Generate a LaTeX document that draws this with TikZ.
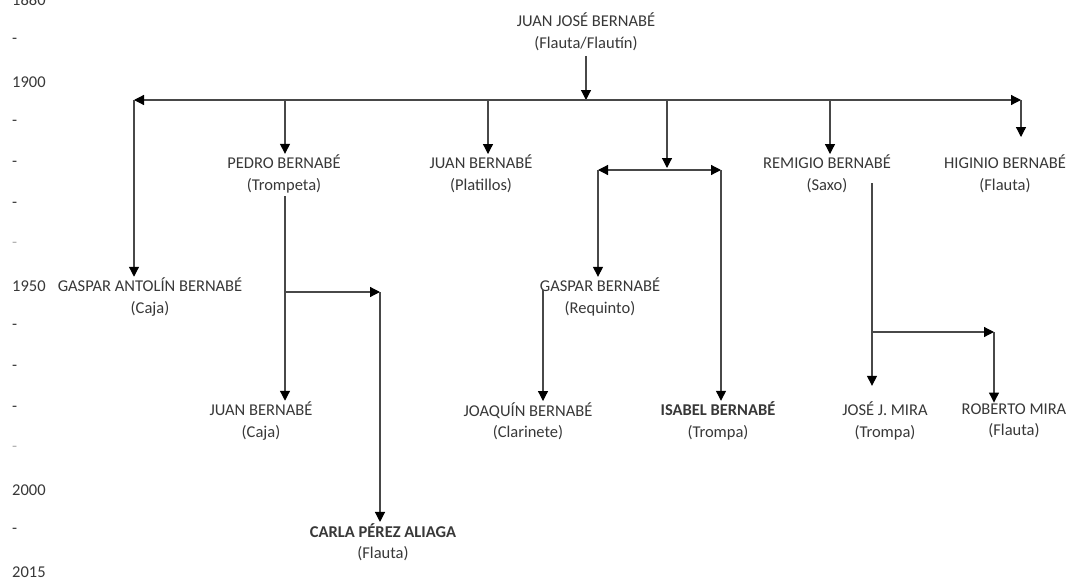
\documentclass[tikz,border=0pt]{standalone}
\usepackage{fontspec}
\setmainfont{Carlito}
\usetikzlibrary{arrows.meta}
\definecolor{txt}{HTML}{383838}
\definecolor{ln}{HTML}{484848}
\definecolor{faint}{HTML}{B0B0B0}
\begin{document}
\begin{tikzpicture}[x=1pt,y=-1pt,
  person/.style={align=center, font=\fontsize{16.5}{21.5}\selectfont, text=txt, inner sep=1pt},
  year/.style={anchor=west, font=\fontsize{16.5}{19}\selectfont, text=txt, inner sep=0pt},
  link/.style={draw=ln, line width=1.2pt},
  arr/.style={link, -{Triangle[length=10pt,width=10pt,color=black]}},
  arrs/.style={link, {Triangle[length=10pt,width=10pt,color=black]}-{Triangle[length=10pt,width=10pt,color=black]}}]
\useasboundingbox[fill=white] (0,0) rectangle (1074,581);

% time axis
\node[year] (y1880) at (12,0) {1880};
\node[year] (d1) at (12,41) {-};
\node[year] (y1900) at (12,82) {1900};
\node[year] (d2) at (12,123) {-};
\node[year] (d3) at (12,164) {-};
\node[year] (d4) at (12,205) {-};
\node[year,text=faint] (d5) at (12,245) {-};
\node[year] (y1950) at (12,286) {1950};
\node[year] (d6) at (12,327) {-};
\node[year] (d7) at (12,368) {-};
\node[year] (d8) at (12,409) {-};
\node[year,text=faint] (d9) at (12,449) {-};
\node[year] (y2000) at (12,490) {2000};
\node[year] (d10) at (12,531) {-};
\node[year] (y2015) at (12,572) {2015};

% people
\node[person] (jj) at (586,32) {JUAN JOSÉ BERNABÉ\\(Flauta/Flautín)};
\node[person] (ga) at (150,297) {GASPAR ANTOLÍN BERNABÉ\\(Caja)};
\node[person] (pe) at (284,174) {PEDRO BERNABÉ\\(Trompeta)};
\node[person] (jp) at (481,174) {JUAN BERNABÉ\\(Platillos)};
\node[person] (re) at (827,174) {REMIGIO BERNABÉ\\(Saxo)};
\node[person] (hi) at (1005,174) {HIGINIO BERNABÉ\\(Flauta)};
\node[person] (gb) at (600,297) {GASPAR BERNABÉ\\(Requinto)};
\node[person] (jc) at (261,421) {JUAN BERNABÉ\\(Caja)};
\node[person] (jq) at (528,421) {JOAQUÍN BERNABÉ\\(Clarinete)};
\node[person] (is) at (718,421) {\textbf{ISABEL BERNABÉ}\\(Trompa)};
\node[person] (jm) at (885,421) {JOSÉ J. MIRA\\(Trompa)};
\node[person] (rm) at (1014,421) {ROBERTO MIRA\\(Flauta)};
\node[person] (ca) at (383,542) {\textbf{CARLA PÉREZ ALIAGA}\\(Flauta)};

% junctions
\coordinate (J) at (586,100);
\coordinate (L) at (134,100);
\coordinate (R) at (1021,100);
\coordinate (P) at (285,100);
\coordinate (Q) at (488,100);
\coordinate (S) at (667,100);
\coordinate (T) at (830,100);
\coordinate (S2) at (667,168);
\coordinate (SL) at (598,170);
\coordinate (SR) at (721,170);
\coordinate (pb) at (285,196);
\coordinate (pk) at (285,292);
\coordinate (pr) at (380,292);
\coordinate (gs) at (543,290);
\coordinate (rb) at (872,183);
\coordinate (rk) at (872,332);
\coordinate (rr) at (994,332);

% connectors
\draw[arr] (jj.south) ++(0,4) -- (J);
\draw[arrs] (L) -- (R);
\draw[arr] (L) -- (L |- ga.north);
\draw[arr] (P) -- (P |- pe.north);
\draw[arr] (Q) -- (Q |- jp.north);
\draw[arr] (S) -- (S2);
\draw[arr] (T) -- (T |- re.north);
\draw[arr] (R) -- ([yshift=17pt]R |- hi.north);
\draw[arrs] (SL) -- (SR);
\draw[arr] (SL) -- (SL |- gb.north);
\draw[arr] (SR) -- (SR |- is.north);
\draw[arr] (pb) -- (pb |- jc.north);
\draw[arr] (pk) -- (pr);
\draw[arr] (pr) -- (pr |- ca.north);
\draw[arr] (gs) -- (gs |- jq.north);
\draw[arr] (rb) -- ([yshift=15pt]rb |- jm.north);
\draw[arr] (rk) -- (rr);
\draw[arr] (rr) -- (rr |- rm.north);
\end{tikzpicture}
\end{document}
